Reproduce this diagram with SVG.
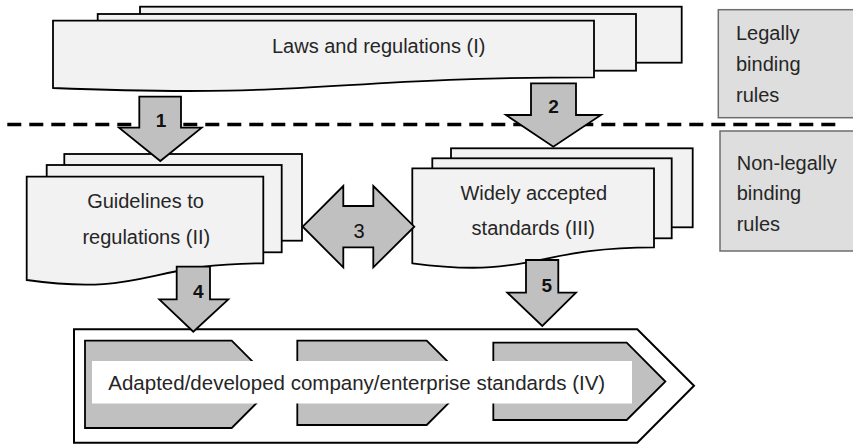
<svg xmlns="http://www.w3.org/2000/svg" width="853" height="445" viewBox="0 0 853 445">
<defs>
<style>
.page{fill:#f2f2f2;stroke:#000;stroke-width:1.8;stroke-linejoin:miter}
.txt{font-family:"Liberation Sans",Arial,sans-serif;font-size:20px;fill:#262626}
.num{font-family:"Liberation Sans",Arial,sans-serif;font-size:19px;font-weight:bold;fill:#111;text-anchor:middle}
.arrow{fill:#c0c0c0;stroke:#000;stroke-width:1.8;stroke-linejoin:miter}
.side{fill:#dedede;stroke:#6e6e6e;stroke-width:1.5}
.chev{fill:#c0c0c0;stroke:#000;stroke-width:1.8}
</style>
</defs>
<rect width="853" height="445" fill="#fff"/>
<g id="separator">
<path d="M7.3,124.5 H836" fill="none" stroke="#000" stroke-width="3.5" stroke-dasharray="14 8"/>
</g>
<g id="laws">
<rect class="page" x="140" y="6.7" width="541.7" height="56"/>
<rect class="page" x="97.7" y="14" width="538.3" height="56.7"/>
<path class="page" d="M53,20.7 H594 V77.3 C323.5,77.3 323.5,98.7 53,88 Z"/>
<text class="txt" x="378.7" y="53.3" text-anchor="middle">Laws and regulations (I)</text>
</g>
<g id="guidelines">
<rect class="page" x="64.3" y="154" width="237.7" height="86.7"/>
<rect class="page" x="46.7" y="165" width="235" height="87.3"/>
<path class="page" d="M26.7,176.7 H263.3 V263.3 C145,263.3 145,296.7 26.7,280 Z"/>
<text class="txt" x="145.5" y="207.5" text-anchor="middle">Guidelines to</text>
<text class="txt" x="146.3" y="243.5" text-anchor="middle">regulations (II)</text>
</g>
<g id="standards">
<rect class="page" x="451" y="148.3" width="241.7" height="79"/>
<rect class="page" x="432.3" y="158.3" width="239.4" height="80"/>
<path class="page" d="M412.3,168.3 H654 V247.3 C533,247.3 533,279.3 412.3,263.3 Z"/>
<text class="txt" x="533.8" y="200" text-anchor="middle">Widely accepted</text>
<text class="txt" x="533.3" y="235" text-anchor="middle">standards (III)</text>
</g>
<g id="company">
<polygon points="74,329.3 637.3,329.3 694,385.7 637.3,442.7 74,442.7" fill="#fff" stroke="#000" stroke-width="2"/>
<polygon class="chev" points="85,340.7 231.7,340.7 275.3,384.3 231.7,428 85,428"/>
<polygon class="chev" points="297.3,340.7 426.7,340.7 468.9,382.8 426.7,425 297.3,425"/>
<polygon class="chev" points="493.3,342.7 626.7,342.7 665.4,381.5 626.7,420 493.3,420"/>
<rect x="92" y="361" width="540" height="42.5" fill="#fff"/>
<text class="txt" x="108.3" y="390" style="font-size:20.5px">Adapted/developed company/enterprise standards (IV)</text>
</g>
<g id="legally">
<rect class="side" x="718.3" y="9.7" width="140" height="108"/>
<text class="txt" x="736"><tspan x="736" y="40">Legally</tspan><tspan x="736" y="71">binding</tspan><tspan x="736" y="101.7">rules</tspan></text>
</g>
<g id="nonlegally">
<rect class="side" x="720" y="131" width="140" height="120"/>
<text class="txt" x="736.7"><tspan x="736.7" y="169.5">Non-legally</tspan><tspan x="736.7" y="200">binding</tspan><tspan x="736.7" y="230.5">rules</tspan></text>
</g>
<g id="connectors">
<g id="arrow1">
<polygon class="arrow" points="139.3,96.7 181,96.7 181,127.7 201.7,127.7 160.3,161 119,127.7 139.3,127.7"/>
<text class="num" x="161" y="126.5">1</text>
</g>
<g id="arrow2">
<polygon class="arrow" points="531,83.3 576,83.3 576,115 601,115 553.3,146.7 506,115 531,115"/>
<text class="num" x="553.5" y="113">2</text>
</g>
<g id="arrow3">
<polygon class="arrow" points="302.7,226.7 343.3,186 343.3,206 373.3,206 373.3,186 414.3,226.7 373.3,267.4 373.3,247.4 343.3,247.4 343.3,267.4"/>
<text class="num" x="359" y="238.3" style="font-weight:normal;font-size:20px">3</text>
</g>
<g id="arrow4">
<polygon class="arrow" points="176.7,266.7 210,266.7 210,299.3 228.3,299.3 193.3,331.7 159.3,299.3 176.7,299.3"/>
<text class="num" x="198.3" y="298.3">4</text>
</g>
<g id="arrow5">
<polygon class="arrow" points="526,260 558.3,260 558.3,292.7 576,292.7 542.3,326 507.3,292.7 526,292.7"/>
<text class="num" x="546.7" y="291.7">5</text>
</g>
</g>
</svg>
